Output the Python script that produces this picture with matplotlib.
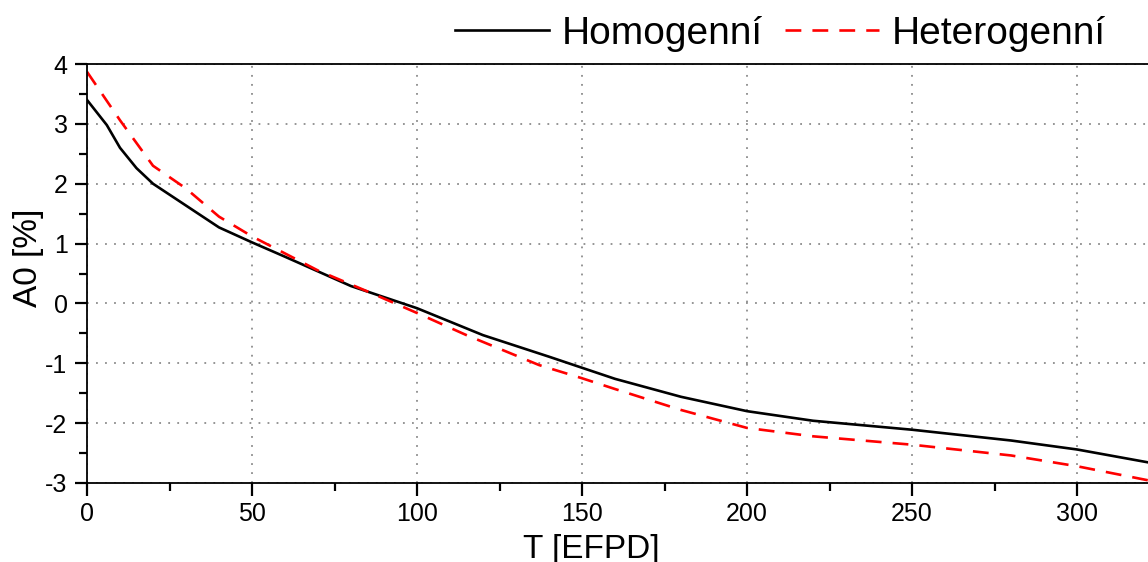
import matplotlib
matplotlib.use("Agg")
import matplotlib.pyplot as plt
from matplotlib.ticker import MultipleLocator

plt.rcParams['font.family'] = ['Liberation Sans', 'DejaVu Sans']
plt.rcParams['axes.unicode_minus'] = False

# Burnup time [EFPD] and axial offset A0 [%]
t_hom = [0, 6, 10, 15, 20, 40, 50, 60, 80, 100, 120, 140, 160, 180, 200, 220, 250, 280, 300, 322]
a0_hom = [3.40, 2.98, 2.60, 2.26, 2.00, 1.27, 1.02, 0.78, 0.29, -0.08, -0.53, -0.89, -1.26,
          -1.56, -1.80, -1.96, -2.11, -2.29, -2.44, -2.66]

t_het = [0, 10, 20, 30, 40, 50, 70, 85, 100, 115, 137, 150, 160, 180, 200, 220, 250, 280, 300, 322]
a0_het = [3.87, 3.06, 2.30, 1.92, 1.45, 1.12, 0.55, 0.20, -0.16, -0.53, -1.03, -1.25, -1.43,
          -1.78, -2.08, -2.22, -2.36, -2.54, -2.72, -2.96]

labels = ["Homogenní", "Heterogenní"]

W, H = 1148, 562
fig = plt.figure(figsize=(W / 100, H / 100), dpi=100)
ax = fig.add_axes([87 / W, 79 / H, 1061 / W, 419 / H])

ax.plot(t_hom, a0_hom, color="black", lw=1.9, label=labels[0])
ax.plot(t_het, a0_het, color="red", lw=1.9, dashes=(6, 4.2), label=labels[1])

ax.set_xlim(0, 321.5)
ax.set_ylim(-3, 4)
ax.xaxis.set_major_locator(MultipleLocator(50))
ax.xaxis.set_minor_locator(MultipleLocator(25))
ax.yaxis.set_major_locator(MultipleLocator(1))
ax.yaxis.set_minor_locator(MultipleLocator(0.5))

ax.grid(True, which="major", color="#8c8c8c", linestyle=(0, (1, 4)), lw=1.3)
ax.tick_params(which="major", direction="out", length=9, width=1.6, labelsize=18,
               colors="black", pad=5)
ax.tick_params(which="minor", direction="out", length=5.5, width=1.6)
ax.tick_params(top=False, right=False)
for s in ax.spines.values():
    s.set_linewidth(1.3)
ax.spines["right"].set_visible(False)

fig.text(591 / W, 1 - 558 / H, "T [EFPD]", fontsize=24, ha="center", va="baseline")
fig.text(28 / W, 1 - 258 / H, "A0 [%]", fontsize=24, rotation=90, ha="center", va="center")

fig.legend(loc="center right", bbox_to_anchor=(1106 / W, 1 - 34 / H), ncol=2, frameon=False,
           fontsize=28, handlelength=2.42, handletextpad=0.33, columnspacing=0.57,
           borderpad=0, borderaxespad=0)

fig.savefig("out.png", dpi=100)
